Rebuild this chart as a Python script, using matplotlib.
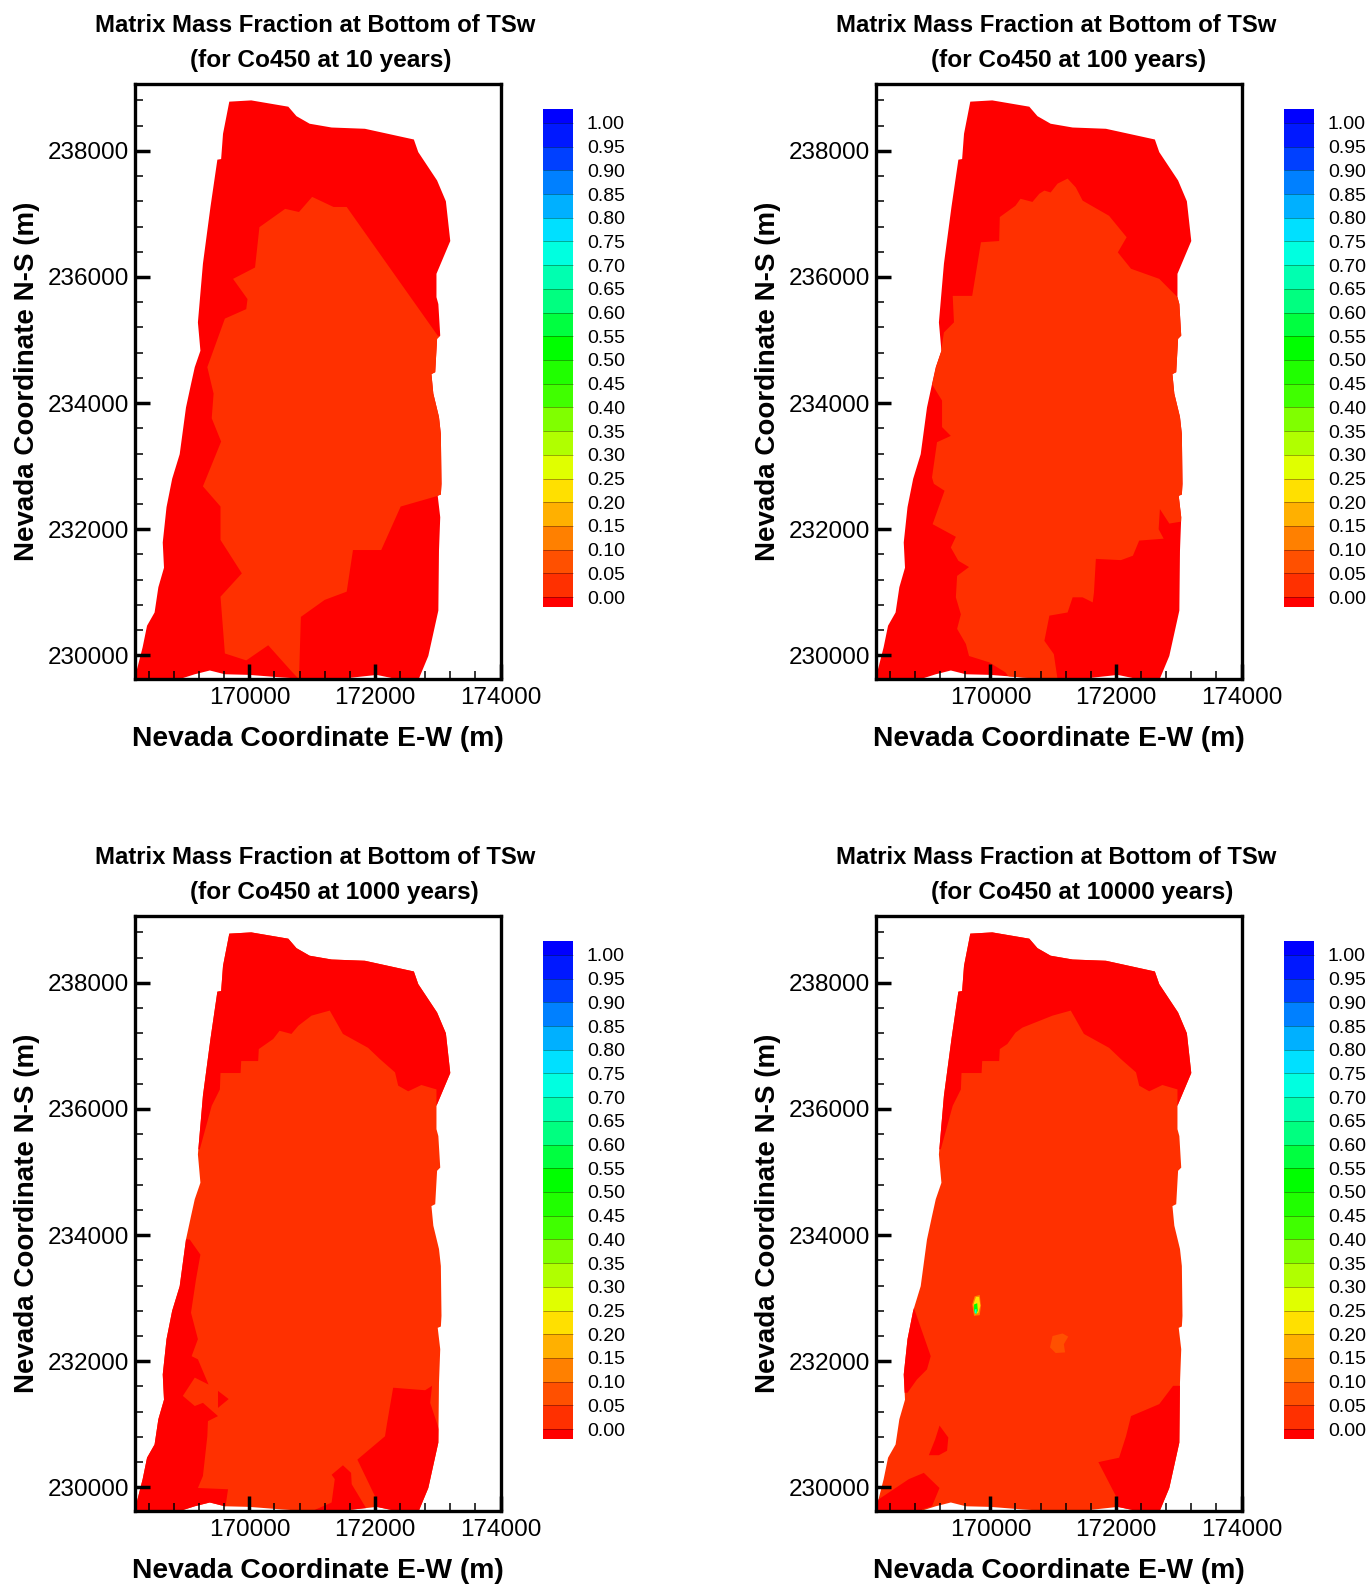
import numpy as np
import matplotlib
matplotlib.use('Agg')
import matplotlib.pyplot as plt
from matplotlib.colors import ListedColormap, BoundaryNorm
from matplotlib.patches import Polygon
from matplotlib.ticker import MultipleLocator, FixedLocator

plt.rcParams['font.family'] = ['Liberation Sans', 'DejaVu Sans']

# contour levels and band colours of the legend
levels = [0.00, 0.05, 0.10, 0.15, 0.20, 0.25, 0.30, 0.35, 0.40, 0.45, 0.50,
          0.55, 0.60, 0.65, 0.70, 0.75, 0.80, 0.85, 0.90, 0.95, 1.00]
band_colors = ['#ff3000', '#ff5000', '#ff8000', '#ffb000', '#ffe000', '#e0ff00',
               '#b0ff00', '#80ff00', '#40ff00', '#20ff00', '#00ff00', '#00ff40',
               '#00ff80', '#00ffb0', '#00ffe0', '#00e0ff', '#00b0ff', '#0080ff',
               '#0040ff', '#0018ff']
under_color = '#ff0000'
over_color = '#0000ff'

# model boundary, Nevada coordinates (E-W, N-S)
boundary = [(169680, 238780), (170030, 238800), (170620, 238700), (170750, 238550),
            (170960, 238430), (171310, 238370), (171840, 238350), (172620, 238180),
            (172690, 237980), (172990, 237530), (173130, 237200), (173200, 236570),
            (172980, 236050), (172980, 235680), (173010, 235570), (173040, 235070),
            (172990, 235020), (172960, 234490), (172900, 234460), (172930, 234150),
            (173020, 233780), (173050, 233510), (173060, 232720), (173050, 232550),
            (173000, 232530), (173040, 232190), (173020, 231660), (173010, 230710),
            (172850, 229990), (172700, 229630), (172270, 229640), (172030, 229690),
            (171570, 229640), (171150, 229640), (170830, 229630), (170510, 229650),
            (170005, 229690), (169610, 229700), (169370, 229760), (169130, 229700),
            (168940, 229640), (168210, 229630), (168210, 229780), (168300, 230130),
            (168370, 230470), (168490, 230680), (168550, 231080), (168640, 231390),
            (168620, 231790), (168680, 232350), (168770, 232800), (168890, 233190),
            (168990, 233930), (169070, 234300), (169130, 234570), (169220, 234830),
            (169180, 235280), (169260, 236210), (169380, 237110), (169490, 237860),
            (169550, 237870), (169580, 238270)]

# 10 years: 0-0.05 band on top of the background
inner_10 = [(171000, 237270), (170790, 237030), (170570, 237080), (170160, 236790),
            (170090, 236150), (169740, 235970), (169970, 235650), (169950, 235490),
            (169610, 235340), (169330, 234570), (169430, 234150), (169400, 233760),
            (169550, 233390), (169260, 232680), (169540, 232360), (169540, 231830),
            (169880, 231300), (169540, 230930), (169610, 230030), (169950, 229920),
            (170300, 230160), (170650, 229770), (170790, 229620), (170820, 230610),
            (171200, 230880), (171550, 231010), (171650, 231670), (172100, 231670),
            (172410, 232360), (173040, 232540), (173280, 232540), (173280, 235040),
            (173000, 235070), (171550, 237110), (171340, 237110)]

# 100 years
inner_100 = [(171230, 237560), (171360, 237420), (171470, 237210), (171890, 236970),
             (172170, 236630), (172030, 236390), (172240, 236130), (172690, 235970),
             (172980, 235680), (173280, 235680), (173280, 232160), (172850, 232090),
             (172700, 232320), (172680, 232000), (172760, 231850), (172370, 231820),
             (172270, 231580), (172080, 231510), (171680, 231530), (171650, 231000),
             (171630, 230840), (171470, 230920), (171310, 230920), (171230, 230680),
             (170940, 230630), (170860, 230230), (171010, 230020), (171070, 229620),
             (170830, 229620), (170300, 229650), (170240, 229730), (169980, 229890),
             (169660, 229990), (169610, 230180), (169470, 230420), (169530, 230650),
             (169450, 230920), (169470, 231260), (169660, 231400), (169490, 231500),
             (169370, 231710), (169450, 231880), (169080, 232080), (169270, 232610),
             (169100, 232720), (169070, 232820), (169150, 233380), (169370, 233480),
             (169230, 233620), (169230, 234040), (169100, 234250), (169070, 234300),
             (169130, 234570), (169220, 234860), (169260, 235120), (169420, 235280),
             (169400, 235700), (169710, 235700), (169850, 236550), (170140, 236570),
             (170150, 236950), (170400, 237130), (170480, 237240), (170670, 237190),
             (170780, 237320), (170860, 237370), (170960, 237340), (171070, 237480)]

# 1000 years: below-zero patches on the 0-0.05 background
cap_1000 = [(168700, 235360), (169210, 235360), (169400, 236050), (169530, 236310),
            (169540, 236570), (169860, 236570), (169870, 236760), (170140, 236760),
            (170150, 236950), (170380, 237110), (170480, 237240), (170670, 237190),
            (170780, 237320), (170990, 237480), (171280, 237560), (171360, 237420),
            (171490, 237190), (171890, 236970), (172080, 236790), (172320, 236580),
            (172370, 236370), (172530, 236280), (172740, 236380), (172980, 236310),
            (172980, 236050), (173280, 236050), (173280, 239060), (168700, 239060)]
left_1000 = [(168100, 233990), (169050, 233930), (169220, 233690), (169150, 233300),
             (169070, 232770), (169180, 232350), (169080, 232080), (169180, 232030),
             (169350, 231630), (169130, 231740), (168940, 231450), (169130, 231290),
             (169260, 231340), (169500, 231130), (169340, 231050), (169330, 230810),
             (169260, 230180), (169180, 229990), (169660, 229970), (169620, 229700),
             (169620, 229540), (168100, 229540)]
wing_1000 = [(169500, 231530), (169670, 231400), (169500, 231260)]
middle_1000 = [(171310, 230200), (171490, 230350), (171620, 230230), (171630, 230050),
               (171890, 229620), (170990, 229620), (171310, 229760), (171360, 230130)]
right_1000 = [(172290, 231580), (172800, 231540), (172910, 231610), (172880, 231340),
              (173020, 230920), (173280, 230920), (173280, 229540), (172000, 229540),
              (172000, 229860), (171720, 230440), (172160, 230810), (172190, 231000)]

# 10000 years
cap_10000 = [(168700, 235360), (169210, 235360), (169400, 236050), (169530, 236310),
             (169540, 236570), (169860, 236570), (169870, 236760), (170140, 236760),
             (170150, 236950), (170270, 237030), (170400, 237210), (170510, 237290),
             (170990, 237480), (171280, 237560), (171360, 237420), (171490, 237190),
             (171890, 236970), (172080, 236790), (172320, 236580), (172370, 236370),
             (172530, 236280), (172740, 236380), (172980, 236310), (172980, 236050),
             (173280, 236050), (173280, 239060), (168700, 239060)]
left_10000 = [(168780, 232850), (169050, 232080), (168990, 231870), (168830, 231710),
              (168680, 231500), (168100, 231500), (168100, 232850)]
small_10000 = [(169190, 230980), (169330, 230790), (169310, 230580), (169180, 230510),
               (169020, 230510), (169120, 230760)]
corner_10000 = [(168940, 230230), (169190, 229990), (169070, 229700), (168910, 229650),
                (168910, 229540), (168100, 229540), (168100, 229810), (168220, 229810),
                (168490, 229990), (168700, 230130)]
right_10000 = [(172910, 231610), (172690, 231320), (172240, 231130), (172160, 230810),
               (172050, 230470), (171720, 230400), (172000, 229860), (172000, 229540),
               (173280, 229540), (173280, 231610)]
blob_10000 = [(170990, 232400), (171150, 232440), (171240, 232390), (171170, 232270),
              (171190, 232140), (171040, 232130), (170950, 232220)]
spot_orange = [(169750, 233030), (169830, 233050), (169850, 232880), (169830, 232730),
               (169740, 232720), (169710, 232900)]
spot_yellow = [(169770, 233020), (169820, 233020), (169840, 232880), (169810, 232770),
               (169760, 232740), (169730, 232900)]
spot_green = [(169740, 232900), (169790, 232920), (169800, 232800), (169770, 232740),
              (169740, 232800)]
spot_teal = [(169750, 232820), (169780, 232830), (169780, 232760), (169750, 232760)]

# mass fraction given to each region
below_zero = -0.01
first_band = 0.025
second_band = 0.075
panels = [
    ('(for Co450 at 10 years)', below_zero, [(inner_10, first_band)]),
    ('(for Co450 at 100 years)', below_zero, [(inner_100, first_band)]),
    ('(for Co450 at 1000 years)', first_band,
     [(cap_1000, below_zero), (left_1000, below_zero), (wing_1000, below_zero),
      (middle_1000, below_zero), (right_1000, below_zero)]),
    ('(for Co450 at 10000 years)', first_band,
     [(cap_10000, below_zero), (left_10000, below_zero), (small_10000, below_zero),
      (corner_10000, below_zero), (right_10000, below_zero), (blob_10000, second_band),
      (spot_orange, 0.125), (spot_yellow, 0.225), (spot_green, 0.525), (spot_teal, 0.725)]),
]

title_line = 'Matrix Mass Fraction at Bottom of TSw'
x_ticks = [170000, 172000, 174000]
y_ticks = [230000, 232000, 234000, 236000, 238000]

W, H = 1370.0, 1585.0
cmap = ListedColormap(band_colors)
cmap.set_under(under_color)
cmap.set_over(over_color)
norm = BoundaryNorm(levels, cmap.N)

fig = plt.figure(figsize=(13.70, 15.85), dpi=100)

for i, (subtitle, base, regions) in enumerate(panels):
    off_x = 741 * (i % 2)
    off_y = 832 * (i // 2)
    ax = fig.add_axes([(134.5 + off_x) / W, 1 - (679 + off_y) / H, 366 / W, 595 / H])

    site = Polygon(boundary, closed=True, facecolor=cmap(norm(base)), edgecolor='none')
    ax.add_patch(site)
    for points, value in regions:
        patch = Polygon(points, closed=True, facecolor=cmap(norm(value)), edgecolor='none')
        ax.add_patch(patch)
        patch.set_clip_path(site)

    ax.set_xlim(168170, 174000)
    ax.set_ylim(229625, 239060)
    ax.xaxis.set_major_locator(FixedLocator(x_ticks))
    ax.yaxis.set_major_locator(FixedLocator(y_ticks))
    ax.xaxis.set_minor_locator(MultipleLocator(400))
    ax.yaxis.set_minor_locator(MultipleLocator(400))
    ax.ticklabel_format(useOffset=False, style='plain')
    ax.tick_params(axis='both', which='major', direction='in', length=10.5, width=2.5, labelsize=17.5)
    ax.tick_params(axis='both', which='minor', direction='in', length=5.8, width=1.1)
    ax.tick_params(axis='x', which='major', pad=5.5)
    ax.tick_params(axis='y', which='major', pad=4)
    for side in ax.spines.values():
        side.set_linewidth(2.4)

    fig.text((317.5 + off_x) / W, 1 - (739 + off_y) / H, 'Nevada Coordinate E-W (m)',
             fontsize=20.3, fontweight='bold', ha='center', va='center')
    fig.text((27 + off_x) / W, 1 - (381 + off_y) / H, 'Nevada Coordinate N-S (m)',
             fontsize=20, fontweight='bold', ha='center', va='center', rotation=90)
    fig.text((95 + off_x) / W, 1 - (26 + off_y) / H, title_line,
             fontsize=17.2, fontweight='bold', ha='left', va='center')
    fig.text((190 + off_x) / W, 1 - (60.5 + off_y) / H, subtitle,
             fontsize=17.6, fontweight='bold', ha='left', va='center')

    cax = fig.add_axes([(543 + off_x) / W, 1 - (607 + off_y) / H, 30 / W, 498 / H])
    sm = plt.cm.ScalarMappable(norm=norm, cmap=cmap)
    cb = fig.colorbar(sm, cax=cax, extend='both', extendrect=True,
                      extendfrac=[10 / 474.5, 14 / 474.5], spacing='proportional',
                      drawedges=True, ticks=levels, format='%.2f')
    cb.outline.set_visible(False)
    cb.dividers.set_color('#00000055')
    cb.dividers.set_linewidth(0.7)
    cb.ax.minorticks_off()
    cb.ax.tick_params(length=0, pad=10, labelsize=14)

fig.savefig('out.png', dpi=100)
